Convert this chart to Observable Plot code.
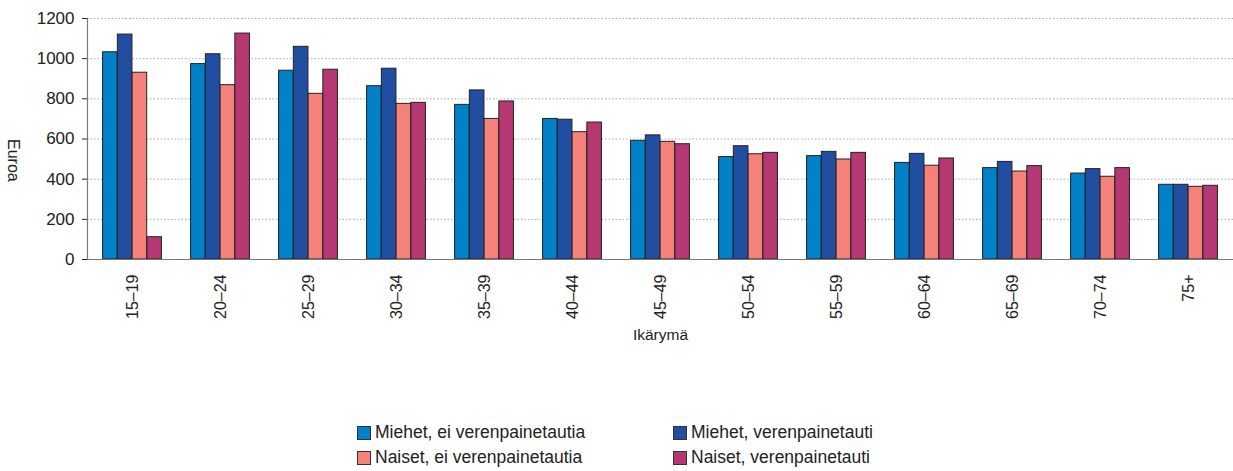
<!DOCTYPE html>
<html>
<head>
<meta charset="utf-8">
<script src="https://cdn.jsdelivr.net/npm/d3@7"></script>
<script src="https://cdn.jsdelivr.net/npm/@observablehq/plot@0.6"></script>
<style>
  body { margin: 0; background: #fff; font-family: "Liberation Sans", Arial, sans-serif; color: #222; }
  #chart svg g[aria-label^="x-axis"] text { font-size: 16px; }
  .legend { display: grid; grid-template-columns: 316px auto; margin-left: 357px; margin-top: 70px; font-size: 17.5px; }
  .legend div { height: 25px; display: flex; align-items: center; white-space: nowrap; }
  .legend span.sw { display: inline-block; width: 12px; height: 12px; border: 1px solid #333; margin-right: 4px; }
</style>
</head>
<body>
<div id="chart"></div>
<div class="legend" id="legend"></div>
<script>
const ages = ["15–19","20–24","25–29","30–34","35–39","40–44","45–49","50–54","55–59","60–64","65–69","70–74","75+"];
const seriesNames = ["Miehet, ei verenpainetautia","Miehet, verenpainetauti","Naiset, ei verenpainetautia","Naiset, verenpainetauti"];
const seriesColors = ["#0080C6","#214EA1","#F4827A","#B53873"];
const miehetEi = [1032, 973, 940, 863, 770, 700, 591, 510, 515, 481, 455, 428, 372];
const miehetVp = [1120, 1022, 1059, 950, 842, 696, 618, 564, 536, 526, 486, 450, 372];
const naisetEi = [930, 868, 825, 775, 700, 634, 586, 524, 498, 467, 438, 412, 362];
const naisetVp = [111, 1125, 945, 780, 787, 682, 574, 531, 531, 503, 465, 455, 367];
const yTicks = [0, 200, 400, 600, 800, 1000, 1200];
const yLabel = "Euroa";
const xLabel = "Ikärymä";

const seriesValues = [miehetEi, miehetVp, naisetEi, naisetVp];
const table = [];
seriesValues.forEach((vals, s) => vals.forEach((v, i) => table.push({age: ages[i], series: seriesNames[s], idx: s, value: v})));

const bandW = (1233 - 87) / ages.length;
const offset = 14.6, barW = 14.75;
const barMarks = seriesNames.map((name, s) => Plot.barY(table.filter(d => d.idx === s), {
  x: "age", y: "value", fill: "series", stroke: "#222", strokeWidth: 1,
  insetLeft: offset + s * barW,
  insetRight: bandW - offset - (s + 1) * barW
}));

const chart = Plot.plot({
  width: 1233,
  height: 350,
  marginLeft: 87,
  marginRight: 0,
  marginTop: 18,
  marginBottom: 91,
  style: {fontSize: "17px", fontFamily: "Liberation Sans, Arial, sans-serif", color: "#222", background: "#fff"},
  x: {type: "band", domain: ages, padding: 0, tickRotate: -90, tickSize: 0, tickPadding: 15, label: null},
  y: {domain: [0, 1200], ticks: yTicks, tickFormat: d => String(d), tickSize: 5, tickPadding: 8, label: null},
  color: {domain: seriesNames, range: seriesColors},
  marks: [
    Plot.ruleY(yTicks.filter(t => t > 0), {stroke: "#aaa", strokeDasharray: "1.5,2", strokeWidth: 1}),
    ...barMarks,
    Plot.ruleY([0], {stroke: "#777", strokeWidth: 1.2}),
    Plot.frame({anchor: "left", stroke: "#777", strokeWidth: 1.2}),
    Plot.text([yLabel], {frameAnchor: "left", dx: -74, rotate: 90, fontSize: 16, fill: "#222"}),
    Plot.text([xLabel], {frameAnchor: "bottom", dy: 80, fontSize: 15.5, fill: "#222"})
  ]
});
document.getElementById("chart").appendChild(chart);

const legend = document.getElementById("legend");
seriesNames.forEach((name, i) => {
  const item = document.createElement("div");
  const sw = document.createElement("span");
  sw.className = "sw";
  sw.style.background = seriesColors[i];
  item.appendChild(sw);
  item.appendChild(document.createTextNode(name));
  legend.appendChild(item);
});
</script>
</body>
</html>
